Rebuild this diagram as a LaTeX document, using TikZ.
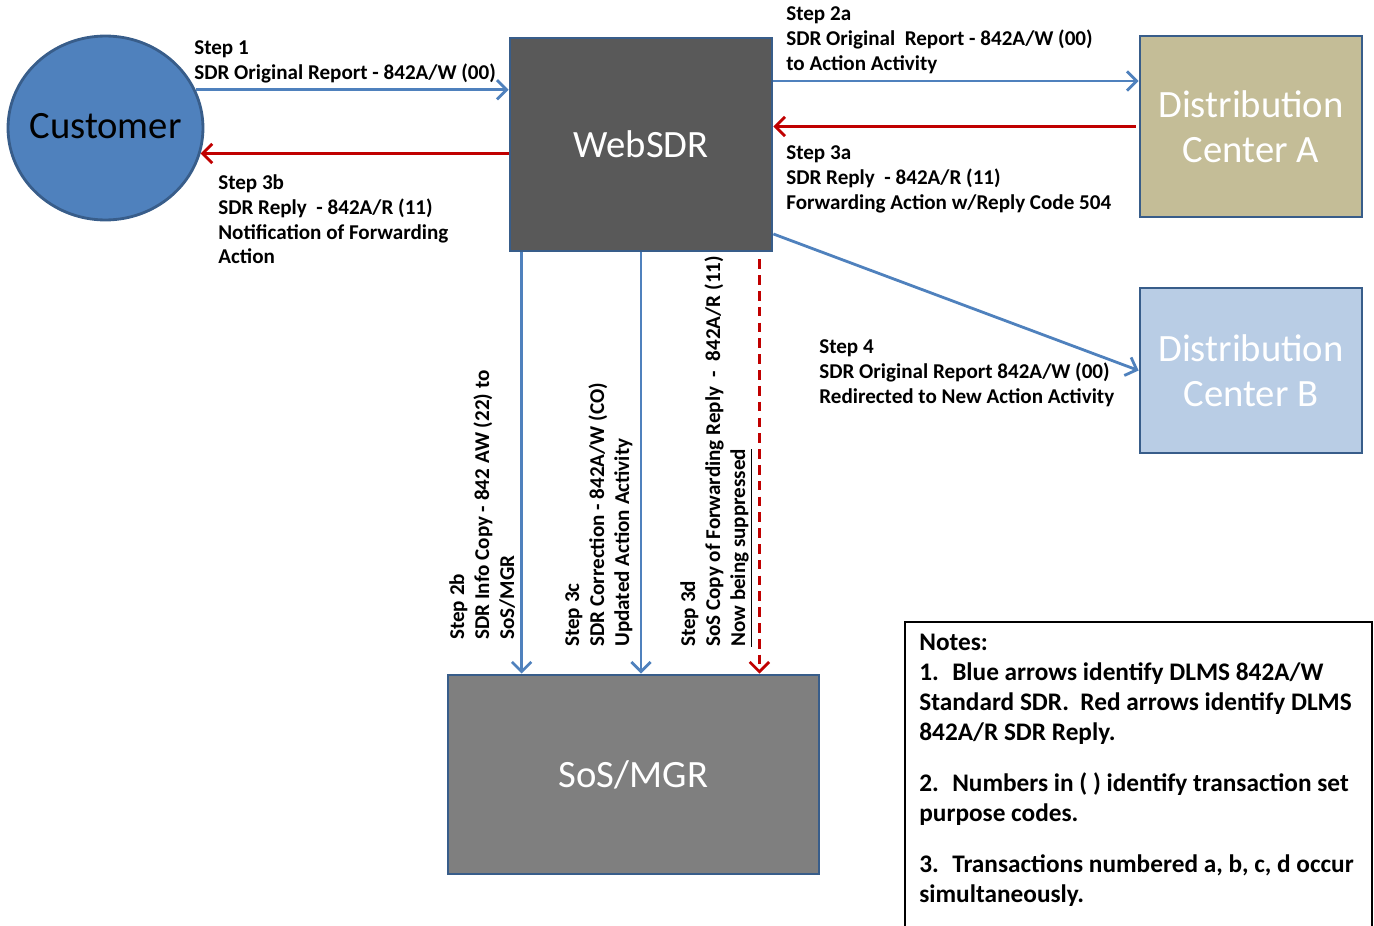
\documentclass[tikz,border=0pt]{standalone}
\usepackage{fontspec}
\setmainfont{Carlito}
\usetikzlibrary{arrows.meta,shapes.geometric}
\definecolor{boxline}{HTML}{385D8A}
\definecolor{flowblue}{HTML}{4F81BD}
\definecolor{flowred}{HTML}{C00000}
\definecolor{webgray}{HTML}{595959}
\definecolor{mgrgray}{HTML}{7F7F7F}
\definecolor{tanfill}{HTML}{C4BD97}
\definecolor{lightblue}{HTML}{B9CDE5}

\begin{document}
\begin{tikzpicture}[x=0.02cm, y=-0.02cm]
                \tikzset{BoxStyle/.style={draw=boxline, line width=1.6pt, text=white, align=center, inner sep=0pt,
                                          font=\fontsize{22}{25.6}\selectfont},
                         BlueFlow/.style={draw=flowblue, line width=1.6pt, -{Straight Barb[length=5.5pt,width=11pt]}},
                         RedFlow/.style={draw=flowred, line width=1.6pt, -{Straight Barb[length=5.5pt,width=11pt]}},
                         StepLabel/.style={font=\bfseries\fontsize{12}{14.2}\selectfont, align=left, inner sep=0pt}}
                \useasboundingbox (0,0) rectangle (1374,926);
                \node[BoxStyle, ellipse, fill=flowblue, text=black, minimum width=3.9cm, minimum height=3.68cm] (Customer) at (105.5,128) {\makebox[0pt]{\raisebox{0.1cm}{Customer}}};
                \node[BoxStyle, fill=webgray, minimum width=5.24cm, minimum height=4.26cm] (Web) at (641,144.5) {WebSDR};
                \node[BoxStyle, fill=tanfill, minimum width=4.44cm, minimum height=3.62cm] (DCA) at (1251,126.5) {Distribution\\Center A};
                \node[BoxStyle, fill=lightblue, minimum width=4.44cm, minimum height=3.3cm] (DCB) at (1251,370.5) {Distribution\\Center B};
                \node[BoxStyle, fill=mgrgray, minimum width=7.42cm, minimum height=3.98cm] (SoS) at (633.5,774.5) {SoS/MGR};
                \draw[BlueFlow] (Customer.23) -- (Customer.23 -| Web.west);
                \draw[RedFlow] (Web.west |- Customer.-15) -- (Customer.-15);
                \draw[BlueFlow] ([yshift=1.27cm]Web.east) -- ([yshift=1.27cm]Web.east -| DCA.west);
                \draw[RedFlow] ([xshift=-0.06cm]DCA.west) -- (DCA.west -| Web.east);
                \draw[BlueFlow] ([yshift=-1.79cm]Web.east) -- (DCB.west);
                \draw[BlueFlow] ([xshift=0.26cm]Web.south west) -- ([xshift=0.26cm]Web.south west |- SoS.north);
                \draw[BlueFlow] (Web.south) -- (Web.south |- SoS.north);
                \draw[RedFlow, dash pattern=on 5.5pt off 3.5pt] ([xshift=-0.28cm,yshift=-0.14cm]Web.south east) -- ([xshift=-0.28cm]Web.south east |- SoS.north);
                \node[StepLabel, anchor=north west] (s1) at (194,40) {Step 1\\SDR Original Report - 842A/W (00)};
                \node[StepLabel, anchor=north west] (s3b) at (218,174) {Step 3b\\SDR Reply~ - 842A/R (11)\\Notification of Forwarding\\Action};
                \node[StepLabel, anchor=north west] (s2a) at (786,6) {Step 2a\\SDR Original~ Report - 842A/W (00)\\to Action Activity};
                \node[StepLabel, anchor=north west] (s3a) at (786,145) {Step 3a\\SDR Reply~ - 842A/R (11)\\Forwarding Action w/Reply Code 504};
                \node[StepLabel, anchor=north west] (s4) at (819,339) {Step 4\\SDR Original Report 842A/W (00)\\Redirected to New Action Activity};
                \node[StepLabel, rotate=90, anchor=north west] (s2b) at (449,640) {Step 2b\\SDR Info Copy - 842 AW (22) to\\SoS/MGR};
                \node[StepLabel, rotate=90, anchor=north west] (s3c) at (565,647) {Step 3c\\SDR Correction - 842A/W (CO)\\Updated Action Activity};
                \node[StepLabel, rotate=90, anchor=north west] (s3d) at (680,647) {Step 3d\\SoS Copy of Forwarding Reply~ - ~842A/R (11)\\\underline{Now being suppressed}};
                \draw[line width=1pt] (905,926) |- (1372,622) -- (1372,926);
                \node[anchor=north west, align=left, inner sep=0pt, font=\bfseries\fontsize{14.4}{17}\selectfont] (notes) at (919,634)
                     {Notes:\\1.~ Blue arrows identify DLMS 842A/W\\Standard SDR.~ Red arrows identify DLMS\\842A/R SDR Reply.\\[12pt]
                      2.~ Numbers in ( ) identify transaction set\\purpose codes.\\[12pt]
                      3.~ Transactions numbered a, b, c, d occur\\simultaneously.};
            \end{tikzpicture}
\end{document}
